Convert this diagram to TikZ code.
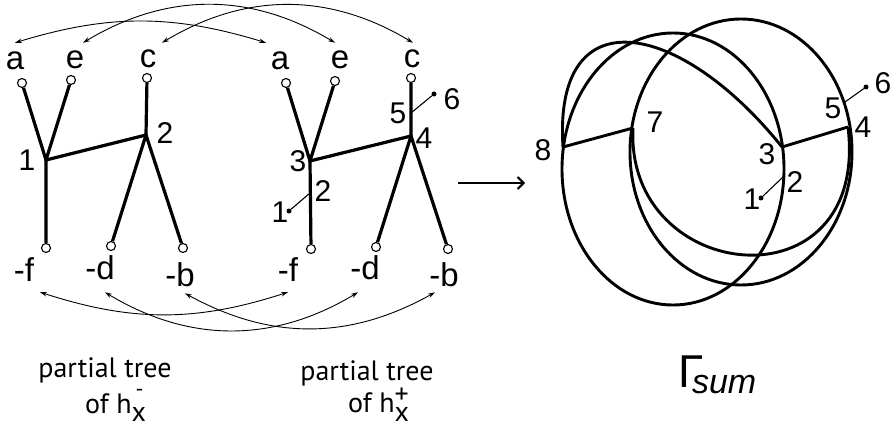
\documentclass[tikz,border=0pt]{standalone}
\usepackage{fontspec}
\setmainfont{Liberation Sans}
\newfontfamily\capfont{PT Sans}
\usepackage{tikz}
\usetikzlibrary{arrows.meta}

\begin{document}
\begin{tikzpicture}[x=1pt,y=-1pt,
  tree/.style={line width=3.2pt},
  ring/.style={line width=2.9pt},
  leaf/.style={circle,draw,fill=white,line width=1.1pt,inner sep=0pt,minimum size=9pt},
  lett/.style={inner sep=0pt,font=\fontsize{33}{33}\selectfont},
  numlbl/.style={inner sep=0pt,font=\fontsize{30}{30}\selectfont},
  glue/.style={line width=0.9pt,{Stealth[length=7pt,width=4.5pt]}-{Stealth[length=7pt,width=4.5pt]}},
  tick/.style={line width=1.1pt},
  dotn/.style={circle,fill,inner sep=0pt,minimum size=5pt},
  capt/.style={inner sep=0pt,font=\capfont\fontsize{28}{28}\selectfont}
]
\useasboundingbox (0,0) rectangle (893,427);

\coordinate (n1) at (46,160);
\coordinate (n2) at (146,135);
\node[leaf] (la) at (22,83) {};
\node[leaf] (le) at (71,80) {};
\node[leaf] (lc) at (147,78) {};
\node[leaf] (lf) at (46,248) {};
\node[leaf] (ld) at (111,246) {};
\node[leaf] (lb) at (183,248) {};
\draw[tree] (la) -- (n1) -- (le);
\draw[tree] (lf) -- (n1) -- (n2) -- (lc);
\draw[tree] (ld) -- (n2) -- (lb);

\node[lett] (aL) at (15,61) {a};
\node[lett] (eL) at (75,60) {e};
\node[lett] (cL) at (148,59) {c};
\node[lett] (fL) at (24,270) {-f};
\node[lett] (dL) at (100,268) {-d};
\node[lett] (bL) at (180,275) {-b};
\node[numlbl] (oneL) at (27,160) {1};
\node[numlbl] (twoL) at (165,133) {2};

\coordinate (n3) at (310,161);
\coordinate (n4) at (411,136);
\node[leaf] (ra) at (286,83) {};
\node[leaf] (re) at (335,81) {};
\node[leaf] (rc) at (411,78) {};
\node[leaf] (rf) at (311,249) {};
\node[leaf] (rd) at (376,247) {};
\node[leaf] (rb) at (448,249) {};
\draw[tree] (ra) -- (n3) -- (re);
\draw[tree] (rf) -- (n3) -- (n4) -- (rc);
\draw[tree] (rd) -- (n4) -- (rb);
\coordinate (p5) at (411,113);
\coordinate (p2) at (310,193);
\node[dotn] (d6) at (434,94) {};
\node[dotn] (d1) at (289,211) {};
\draw[tick] (p5) -- (d6);
\draw[tick] (p2) -- (d1);

\node[lett] (aR) at (280,61) {a};
\node[lett] (eR) at (340,60) {e};
\node[lett] (cR) at (412,59) {c};
\node[lett] (fR) at (288,270) {-f};
\node[lett] (dR) at (365,268) {-d};
\node[lett] (bR) at (444,275) {-b};
\node[numlbl] (threeR) at (298,161) {3};
\node[numlbl] (fourR) at (424,138) {4};
\node[numlbl] (fiveR) at (398,113) {5};
\node[numlbl] (sixR) at (452,99) {6};
\node[numlbl] (twoR) at (323,191) {2};
\node[numlbl] (oneR) at (280,212) {1};

\draw[glue] ([yshift=9pt]aL.north) to[bend left=17] ([xshift=-14pt,yshift=9pt]aR.north);
\draw[glue] ([xshift=8pt,yshift=8pt]eL.north) to[bend left=31] ([xshift=-5pt,yshift=8pt]eR.north);
\draw[glue] ([xshift=14pt,yshift=7pt]cL.north) to[bend left=31] ([xshift=1pt,yshift=7pt]cR.north);
\draw[glue] ([xshift=16pt,yshift=-10pt]fL.south) to[bend right=18] ([yshift=-10pt]fR.south);
\draw[glue] ([xshift=5pt,yshift=-12pt]dL.south) to[bend right=31] ([xshift=-7pt,yshift=-12pt]dR.south);
\draw[glue] ([xshift=5pt,yshift=-6pt]bL.south) to[bend right=29] ([xshift=-9pt,yshift=-5pt]bR.south);

\node[capt,anchor=base] (capL) at (105,377) {partial tree};
\node[capt,anchor=base west] (ofL) at (85,413) {of h\makebox[0pt][l]{\raisebox{-8pt}{x}}\hspace{4pt}\raisebox{17pt}{\fontsize{22}{22}\selectfont -}};
\node[capt,anchor=base] (capR) at (367,380) {partial tree};
\node[capt,anchor=base west] (ofR) at (348,412) {of h\makebox[0pt][l]{\raisebox{-9pt}{x}}\raisebox{9pt}{+}};

\coordinate (arrS) at (458,183);
\coordinate (arrE) at (525,183);
\draw[line width=2pt,-{Straight Barb[length=6pt,width=12pt]}] (arrS) -- (arrE);

\coordinate (v8) at (563,147);
\coordinate (v7) at (633,128);
\coordinate (v3) at (782,147);
\coordinate (v4) at (848,127);
\coordinate (v5) at (845,102);
\coordinate (v2) at (783,177);
\draw[ring] (673,169) ellipse [x radius=111pt,y radius=136pt];
\draw[ring] (741,152) ellipse [x radius=111pt,y radius=133pt];
\draw[ring] (v8) .. controls (553,-5) and (680,20) .. (v3);
\draw[ring] (v7) .. controls (625,285) and (870,310) .. (v4);
\draw[ring] (v8) -- (v7);
\draw[ring] (v3) -- (v4);
\node[dotn] (g6) at (866,87) {};
\node[dotn] (g1) at (761,198) {};
\draw[tick] (v5) -- (g6);
\draw[tick] (v2) -- (g1);

\node[numlbl] (g8L) at (543,150) {8};
\node[numlbl] (g7L) at (655,122) {7};
\node[numlbl] (g3L) at (767,154) {3};
\node[numlbl] (g4L) at (863,127) {4};
\node[numlbl] (g5L) at (833,108) {5};
\node[numlbl] (g6L) at (883,83) {6};
\node[numlbl] (g2L) at (795,182) {2};
\node[numlbl] (g1L) at (752,199) {1};

\node[inner sep=0pt,anchor=base west] (gsum) at (678,387) {\fontsize{46}{46}\selectfont Γ\kern-11.5pt\raisebox{-6pt}{\itshape\fontsize{34}{34}\selectfont sum}};
\end{tikzpicture}
\end{document}
